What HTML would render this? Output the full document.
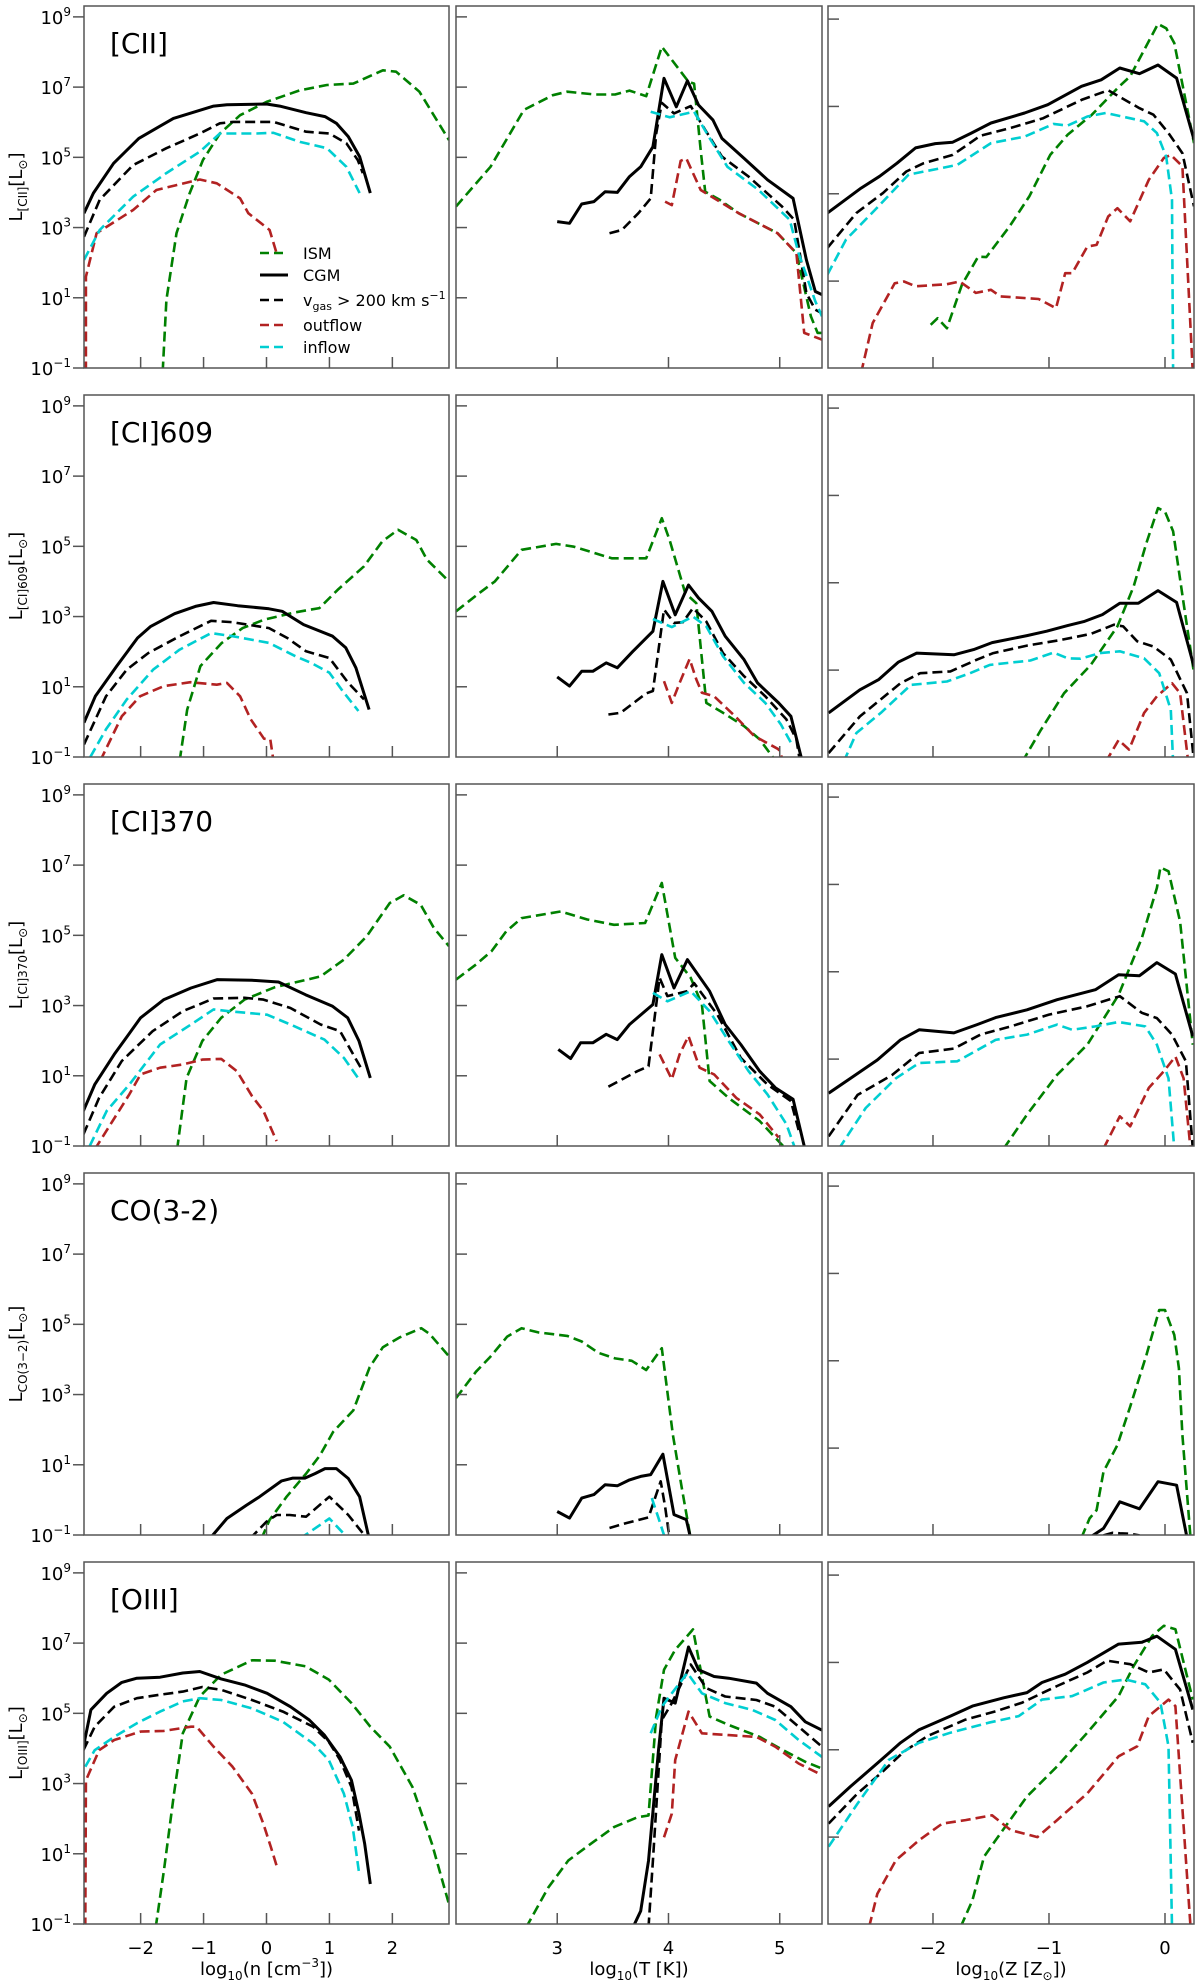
<!DOCTYPE html>
<html><head><meta charset="utf-8"><title>Line luminosity vs gas properties</title>
<style>
html,body{margin:0;padding:0;background:#fff;}
svg{display:block;font-family:"DejaVu Sans","Liberation Sans",sans-serif;}
</style></head>
<body>
<svg id="fig" xmlns="http://www.w3.org/2000/svg" width="1200" height="1984" viewBox="0 0 1200 1984"></svg>
<script>
// ---------- data: y values are log10(L / Lsun) ----------
// Row 1 [CII]
const r1c1_ism_x=[-1.65,-1.59,-1.43,-1.22,-1.01,-0.74,-0.42,0,0.53,0.96,1.38,1.85,2.06,2.43,2.9];
const r1c1_ism_y=[-1.1,0.94,2.84,3.98,4.92,5.68,6.2,6.58,6.91,7.06,7.1,7.48,7.44,6.87,5.49];
const r1c1_cgm_x=[-2.9,-2.75,-2.43,-2.03,-1.48,-0.84,-0.63,0,0.21,0.63,0.93,1.11,1.30,1.48,1.65];
const r1c1_cgm_y=[3.41,3.98,4.83,5.54,6.11,6.46,6.5,6.52,6.46,6.27,6.16,5.97,5.59,5.02,3.98];
const r1c1_vg_x=[-2.9,-2.65,-2.12,-1.59,-1.06,-0.74,-0.53,0.11,0.63,1.0,1.27,1.45,1.53];
const r1c1_vg_y=[2.74,3.79,4.78,5.26,5.68,5.97,6.01,6.01,5.73,5.68,5.4,4.92,4.55];
const r1c1_out_x=[-2.87,-2.87,-2.7,-2.12,-1.75,-1.43,-1.06,-0.79,-0.42,-0.29,0.05,0.16];
const r1c1_out_y=[-1.1,1.6,2.84,3.5,4.07,4.21,4.37,4.26,3.83,3.41,2.93,2.27];
const r1c1_in_x=[-2.9,-2.65,-2.12,-1.59,-1.06,-0.74,-0.16,0.11,0.53,0.96,1.27,1.48];
const r1c1_in_y=[2.08,2.93,3.88,4.55,5.16,5.68,5.68,5.70,5.44,5.26,4.73,3.98];

const r1c2_ism_x=[2.09,2.4,2.70,2.96,3.09,3.34,3.52,3.65,3.80,3.94,4.18,4.23,4.29,4.33,4.46,4.63,4.98,5.15,5.28,5.34,5.38];
const r1c2_ism_y=[3.6,4.73,6.35,6.77,6.87,6.79,6.79,6.9,6.74,8.15,7.15,7.1,5.2,4.02,3.79,3.41,2.84,2.27,0.47,0.0,0.0];
const r1c2_cgm_x=[3.0,3.11,3.22,3.33,3.43,3.54,3.65,3.75,3.86,3.96,4.07,4.17,4.27,4.40,4.48,4.68,4.89,5.12,5.24,5.32,5.38];
const r1c2_cgm_y=[3.17,3.12,3.67,3.74,4.02,4.0,4.45,4.73,5.3,7.25,6.44,7.18,6.49,6.06,5.54,4.97,4.36,3.83,2.08,1.18,1.09];
const r1c2_vg_x=[3.47,3.58,3.73,3.84,3.89,3.94,4.05,4.20,4.33,4.48,4.72,5.02,5.13,5.24,5.32,5.38];
const r1c2_vg_y=[2.84,2.93,3.41,3.83,5.68,6.55,6.25,6.46,5.78,5.02,4.45,3.6,3.22,1.13,0.66,0.56];
const r1c2_out_x=[3.97,4.03,4.11,4.16,4.29,4.46,4.63,4.98,5.15,5.22,5.38];
const r1c2_out_y=[3.74,3.64,4.9,4.97,4.07,3.74,3.41,2.84,2.27,0.0,-0.19];
const r1c2_in_x=[3.84,4.01,4.23,4.38,4.53,4.81,5.09,5.17,5.32,5.38];
const r1c2_in_y=[6.30,6.14,6.30,5.49,4.73,4.07,3.22,2.27,0.9,0.47];

const r1c3_ism_x=[-2.02,-1.96,-1.88,-1.75,-1.61,-1.54,-1.34,-1.17,-0.99,-0.84,-0.63,-0.39,-0.30,-0.06,0.01,0.08,0.25];
const r1c3_ism_y=[2.0,2.15,1.92,2.92,3.56,3.55,4.25,4.94,5.89,6.35,6.81,7.47,7.69,8.89,8.79,8.45,6.16];
const r1c3_cgm_x=[-2.91,-2.62,-2.46,-2.31,-2.15,-1.98,-1.83,-1.67,-1.50,-1.21,-1.01,-0.72,-0.55,-0.39,-0.22,-0.06,0.10,0.25];
const r1c3_cgm_y=[4.56,5.13,5.40,5.70,6.05,6.15,6.18,6.39,6.62,6.85,7.04,7.46,7.61,7.88,7.75,7.95,7.65,6.24];
const r1c3_vg_x=[-2.91,-2.66,-2.43,-2.23,-2.08,-1.83,-1.59,-1.34,-1.05,-0.72,-0.49,-0.22,-0.10,0.03,0.15,0.25];
const r1c3_vg_y=[3.76,4.56,5.02,5.51,5.70,5.89,6.33,6.50,6.73,7.15,7.37,6.96,6.81,6.39,5.93,4.71];
const r1c3_out_x=[-2.62,-2.52,-2.33,-2.25,-2.15,-1.88,-1.77,-1.63,-1.50,-1.42,-1.09,-0.94,-0.86,-0.80,-0.67,-0.59,-0.49,-0.41,-0.30,-0.14,-0.01,0.05,0.15,0.24];
const r1c3_out_y=[0.9,2.04,2.95,2.99,2.88,2.93,2.99,2.73,2.80,2.65,2.59,2.38,3.18,3.18,3.79,3.83,4.48,4.67,4.37,5.32,5.82,5.89,5.63,0.9];
const r1c3_in_x=[-2.91,-2.75,-2.50,-2.21,-1.79,-1.50,-1.21,-0.96,-0.84,-0.67,-0.51,-0.18,-0.07,0.01,0.06,0.07];
const r1c3_in_y=[3.15,3.95,4.63,5.44,5.66,6.16,6.31,6.60,6.56,6.77,6.85,6.66,6.39,5.85,4.86,0.9];

// Row 2 [CI]609
const r2c1_ism_x=[-1.38,-1.26,-1.05,-0.71,-0.38,-0.04,0.46,0.84,1.13,1.55,1.84,2.09,2.38,2.55,2.9];
const r2c1_ism_y=[-1.1,0.35,1.59,2.25,2.67,2.91,3.12,3.24,3.76,4.43,5.14,5.47,5.18,4.62,4.0];
const r2c1_cgm_x=[-2.9,-2.72,-2.38,-2.05,-1.84,-1.46,-1.13,-0.84,-0.46,0.04,0.25,0.59,1.05,1.26,1.42,1.63];
const r2c1_cgm_y=[-0.02,0.73,1.59,2.39,2.72,3.08,3.29,3.40,3.31,3.22,3.15,2.77,2.44,2.11,1.54,0.35];
const r2c1_vg_x=[-2.9,-2.55,-2.22,-1.88,-1.38,-0.88,-0.54,0.04,0.33,0.63,1.0,1.30,1.55];
const r2c1_vg_y=[-0.64,0.73,1.49,1.96,2.44,2.88,2.84,2.67,2.39,2.01,1.82,1.11,0.64];
const r2c1_out_x=[-2.64,-2.30,-2.01,-1.63,-1.21,-0.79,-0.63,-0.42,-0.25,-0.04,0.06,0.11];
const r2c1_out_y=[-1.1,0.16,0.73,1.02,1.13,1.06,1.11,0.73,0.07,-0.48,-0.5,-1.1];
const r2c1_in_x=[-2.80,-2.55,-2.22,-1.80,-1.38,-0.88,-0.54,0.04,0.46,0.71,1.0,1.21,1.46];
const r2c1_in_y=[-1.0,-0.21,0.64,1.49,2.06,2.53,2.44,2.25,1.87,1.68,1.40,0.88,0.31];

const r2c2_ism_x=[2.09,2.30,2.44,2.68,2.99,3.15,3.49,3.80,3.94,4.01,4.15,4.25,4.34,4.49,4.68,4.82,4.96];
const r2c2_ism_y=[3.15,3.67,4.0,4.90,5.07,4.99,4.66,4.66,5.8,5.18,3.67,3.38,0.54,0.26,-0.12,-0.5,-1.1];
const r2c2_cgm_x=[3.0,3.11,3.22,3.32,3.44,3.54,3.68,3.86,3.95,4.06,4.18,4.27,4.39,4.51,4.68,4.80,4.99,5.10,5.20];
const r2c2_cgm_y=[1.28,1.02,1.44,1.44,1.68,1.54,2.01,2.58,4.0,3.05,3.90,3.53,3.15,2.44,1.77,1.11,0.54,0.16,-1.1];
const r2c2_vg_x=[3.46,3.57,3.80,3.86,3.96,4.05,4.13,4.22,4.34,4.49,4.68,4.87,5.06,5.15,5.18];
const r2c2_vg_y=[0.21,0.26,0.81,0.88,3.2,2.82,2.84,3.24,2.86,1.96,1.30,0.73,0.07,-0.5,-1.1];
const r2c2_out_x=[3.96,4.03,4.10,4.19,4.25,4.30,4.41,4.60,4.77,4.99,5.03];
const r2c2_out_y=[1.16,0.54,1.11,1.79,1.21,0.83,0.73,0.16,-0.4,-0.78,-1.1];
const r2c2_in_x=[3.86,4.03,4.22,4.34,4.49,4.68,4.87,5.01,5.10];
const r2c2_in_y=[2.93,2.70,3.0,2.72,1.87,1.11,0.54,-0.07,-0.59];

const r2c3_ism_x=[-1.23,-1.07,-0.87,-0.64,-0.41,-0.27,-0.16,-0.06,0.0,0.07,0.16,0.25];
const r2c3_ism_y=[0.9,1.63,2.47,3.12,4.0,4.92,5.91,6.71,6.63,6.18,4.53,2.93];
const r2c3_cgm_x=[-2.90,-2.63,-2.47,-2.30,-2.14,-1.82,-1.65,-1.49,-1.19,-1.02,-0.84,-0.70,-0.54,-0.39,-0.23,-0.06,0.10,0.25];
const r2c3_cgm_y=[2.02,2.55,2.78,3.18,3.39,3.35,3.47,3.63,3.79,3.89,4.02,4.11,4.27,4.53,4.53,4.82,4.55,3.08];
const r2c3_vg_x=[-2.90,-2.63,-2.28,-2.11,-1.85,-1.62,-1.48,-1.19,-0.90,-0.64,-0.44,-0.36,-0.24,-0.10,0.05,0.19,0.25];
const r2c3_vg_y=[1.10,1.94,2.70,2.93,2.97,3.24,3.39,3.56,3.69,3.83,4.04,4.0,3.66,3.54,3.24,2.47,0.9];
const r2c3_out_x=[-0.51,-0.40,-0.31,-0.18,-0.07,0.06,0.13,0.20];
const r2c3_out_y=[0.9,1.40,1.18,2.02,2.40,2.70,2.47,0.9];
const r2c3_in_x=[-2.77,-2.66,-2.45,-2.19,-1.88,-1.68,-1.51,-1.16,-0.96,-0.84,-0.73,-0.56,-0.39,-0.18,-0.05,0.05,0.07];
const r2c3_in_y=[0.9,1.56,2.02,2.66,2.74,2.93,3.12,3.22,3.40,3.27,3.26,3.39,3.43,3.27,2.93,2.09,0.9];

// Row 3 [CI]370
const r3c1_ism_x=[-1.42,-1.27,-1.02,-0.72,-0.35,0.13,0.86,1.23,1.59,1.96,2.18,2.45,2.66,2.9];
const r3c1_ism_y=[-1.1,0.94,1.99,2.65,3.17,3.52,3.83,4.31,4.97,5.92,6.14,5.87,5.21,4.69];
const r3c1_cgm_x=[-2.91,-2.73,-2.42,-2.0,-1.63,-1.2,-0.78,-0.23,0.19,0.62,1.05,1.29,1.47,1.65];
const r3c1_cgm_y=[0.0,0.75,1.61,2.65,3.17,3.50,3.74,3.72,3.67,3.31,2.98,2.65,1.99,0.94];
const r3c1_vg_x=[-2.91,-2.66,-2.30,-1.81,-1.33,-0.84,-0.35,-0.05,0.38,0.86,1.17,1.41,1.53];
const r3c1_vg_y=[-0.67,0.37,1.42,2.27,2.84,3.20,3.22,3.17,2.93,2.46,2.27,1.51,1.13];
const r3c1_out_x=[-2.73,-2.18,-2.0,-1.69,-1.33,-1.02,-0.72,-0.47,-0.23,-0.05,0.16];
const r3c1_out_y=[-1.1,0.47,1.04,1.23,1.32,1.46,1.48,1.13,0.42,0.0,-0.86];
const r3c1_in_x=[-2.81,-2.54,-2.18,-1.69,-1.20,-0.84,-0.60,0.01,0.38,0.92,1.23,1.47];
const r3c1_in_y=[-1.0,0.0,0.75,1.89,2.46,2.89,2.84,2.74,2.46,2.03,1.51,0.90];

const r3c2_ism_x=[2.09,2.27,2.41,2.54,2.68,3.03,3.27,3.51,3.79,3.94,4.06,4.20,4.30,4.37,4.54,4.82,5.03];
const r3c2_ism_y=[3.74,4.17,4.55,5.11,5.49,5.68,5.45,5.30,5.35,6.49,4.36,3.79,3.03,0.85,0.37,-0.29,-1.0];
const r3c2_cgm_x=[3.01,3.12,3.21,3.32,3.44,3.54,3.65,3.86,3.94,4.05,4.17,4.37,4.51,4.65,4.82,4.96,5.12,5.22];
const r3c2_cgm_y=[1.75,1.49,1.94,1.94,2.18,2.03,2.46,3.03,4.45,3.50,4.31,3.41,2.46,1.89,1.13,0.66,0.33,-1.0];
const r3c2_vg_x=[3.46,3.72,3.82,3.92,3.99,4.17,4.23,4.44,4.65,4.89,5.10,5.18];
const r3c2_vg_y=[0.69,1.13,1.27,3.79,3.27,3.41,3.64,2.74,1.51,0.75,0.28,-0.67];
const r3c2_out_x=[3.92,4.03,4.10,4.18,4.28,4.41,4.61,4.82,4.99];
const r3c2_out_y=[1.61,0.90,1.61,2.13,1.23,1.04,0.37,-0.10,-0.76];
const r3c2_in_x=[3.86,3.99,4.20,4.37,4.54,4.72,4.89,5.06,5.13];
const r3c2_in_y=[3.36,3.12,3.41,2.84,1.99,1.13,0.47,-0.38,-1.0];

const r3c3_ism_x=[-1.39,-1.19,-0.93,-0.67,-0.40,-0.20,-0.07,-0.04,0.03,0.13,0.24];
const r3c3_ism_y=[0.95,1.73,2.64,3.33,4.47,5.77,6.92,7.39,7.30,6.15,3.33];
const r3c3_cgm_x=[-2.90,-2.71,-2.48,-2.28,-2.12,-1.82,-1.62,-1.46,-1.19,-0.93,-0.60,-0.40,-0.22,-0.07,0.09,0.24];
const r3c3_cgm_y=[2.22,2.56,2.98,3.44,3.67,3.60,3.79,3.95,4.13,4.36,4.59,4.93,4.91,5.21,4.95,3.52];
const r3c3_vg_x=[-2.90,-2.65,-2.35,-2.12,-1.82,-1.59,-1.33,-1.0,-0.67,-0.39,-0.20,-0.07,0.06,0.18,0.24];
const r3c3_vg_y=[1.23,2.18,2.64,3.14,3.24,3.56,3.75,4.02,4.21,4.44,4.06,3.94,3.56,2.95,0.95];
const r3c3_out_x=[-0.53,-0.39,-0.30,-0.14,-0.01,0.09,0.16,0.22];
const r3c3_out_y=[0.95,1.69,1.46,2.34,2.72,3.06,2.56,0.95];
const r3c3_in_x=[-2.81,-2.58,-2.32,-2.12,-1.79,-1.46,-1.19,-0.93,-0.80,-0.60,-0.40,-0.17,-0.07,0.03,0.08];
const r3c3_in_y=[0.95,1.88,2.56,2.91,2.95,3.44,3.56,3.79,3.67,3.75,3.85,3.75,3.33,2.56,0.95];

// Row 4 CO(3-2)
const r4c1_ism_x=[-0.08,0.05,0.32,0.63,0.85,1.06,1.38,1.64,1.85,2.12,2.46,2.59,2.9];
const r4c1_ism_y=[-1.1,-0.57,0.09,0.75,1.27,1.94,2.55,3.78,4.35,4.63,4.89,4.73,4.09];
const r4c1_cgm_x=[-0.90,-0.63,-0.32,-0.11,0.24,0.42,0.61,0.77,0.93,1.11,1.30,1.48,1.63];
const r4c1_cgm_y=[-1.1,-0.53,-0.15,0.09,0.54,0.62,0.62,0.75,0.89,0.89,0.61,0.09,-1.1];
const r4c1_vg_x=[-0.26,0,0.16,0.37,0.63,1.0,1.30,1.53];
const r4c1_vg_y=[-1.1,-0.62,-0.43,-0.43,-0.48,0.09,-0.43,-0.95];
const r4c1_out_x=[];
const r4c1_out_y=[];
const r4c1_in_x=[0.53,0.66,1.0,1.30];
const r4c1_in_y=[-1.1,-0.95,-0.53,-1.1];

const r4c2_ism_x=[2.09,2.27,2.40,2.55,2.68,2.83,3.09,3.22,3.37,3.52,3.67,3.80,3.94,4.04,4.12,4.20];
const r4c2_ism_y=[2.9,3.65,4.08,4.65,4.89,4.77,4.67,4.51,4.19,4.03,3.96,3.70,4.32,1.85,0.34,-1.1];
const r4c2_cgm_x=[3.0,3.11,3.22,3.33,3.43,3.54,3.65,3.75,3.84,3.95,4.05,4.16,4.20];
const r4c2_cgm_y=[-0.33,-0.52,0.05,0.15,0.43,0.40,0.57,0.67,0.72,1.30,-0.42,-0.56,-1.1];
const r4c2_vg_x=[3.47,3.62,3.82,3.93,3.97,4.01];
const r4c2_vg_y=[-0.80,-0.66,-0.50,0.53,-0.19,-1.1];
const r4c2_out_x=[];
const r4c2_out_y=[];
const r4c2_in_x=[3.85,3.91,3.97];
const r4c2_in_y=[0.05,-0.52,-1.1];

const r4c3_ism_x=[-0.72,-0.65,-0.59,-0.53,-0.41,-0.30,-0.16,-0.05,0.0,0.08,0.12,0.15,0.22];
const r4c3_ism_y=[0.95,1.39,1.58,2.46,3.07,3.95,5.13,6.16,6.16,5.59,4.83,3.30,0.95];
const r4c3_cgm_x=[-0.65,-0.53,-0.39,-0.22,-0.06,0.10,0.19];
const r4c3_cgm_y=[0.95,1.16,1.77,1.61,2.23,2.15,0.95];
const r4c3_vg_x=[-0.53,-0.45,-0.39,-0.30,-0.22];
const r4c3_vg_y=[1.0,1.06,1.05,1.04,1.0];
const r4c3_out_x=[];
const r4c3_out_y=[];
const r4c3_in_x=[];
const r4c3_in_y=[];

// Row 5 [OIII]
const r5c1_ism_x=[-1.76,-1.63,-1.47,-1.33,-1.06,-0.72,-0.23,0.13,0.62,0.99,1.35,1.65,1.96,2.32,2.63,2.90];
const r5c1_ism_y=[-1.1,0.52,2.71,4.43,5.48,6.10,6.51,6.50,6.34,5.96,5.29,4.62,4.05,2.90,1.28,-0.44];
const r5c1_cgm_x=[-2.91,-2.79,-2.54,-2.30,-2.06,-1.69,-1.33,-1.06,-0.72,-0.35,0.01,0.38,0.68,0.92,1.17,1.35,1.47,1.56,1.65];
const r5c1_cgm_y=[4.05,5.10,5.57,5.88,6.0,6.03,6.15,6.19,5.98,5.81,5.57,5.19,4.81,4.38,3.76,3.09,2.14,1.28,0.14];
const r5c1_vg_x=[-2.91,-2.73,-2.42,-2.06,-1.69,-1.33,-1.02,-0.72,-0.23,0.26,0.74,0.99,1.17,1.35,1.47];
const r5c1_vg_y=[3.95,4.62,5.19,5.43,5.53,5.62,5.75,5.67,5.38,5.05,4.62,4.19,3.67,2.90,1.66];
const r5c1_out_x=[-2.88,-2.87,-2.66,-2.42,-2.0,-1.63,-1.20,-1.11,-0.84,-0.54,-0.23,-0.05,0.07,0.16];
const r5c1_out_y=[-1.1,3.09,3.95,4.24,4.48,4.50,4.62,4.62,4.05,3.48,2.71,1.85,1.19,0.66];
const r5c1_in_x=[-2.88,-2.73,-2.42,-2.06,-1.69,-1.33,-1.06,-0.72,-0.23,0.26,0.74,0.99,1.23,1.37,1.47];
const r5c1_in_y=[3.48,3.95,4.33,4.72,5.05,5.34,5.43,5.38,5.14,4.76,4.14,3.67,2.71,1.76,0.47];

const r5c2_ism_x=[2.72,2.92,3.10,3.30,3.51,3.72,3.82,3.89,3.96,4.06,4.22,4.30,4.37,4.54,4.82,5.03,5.23,5.38];
const r5c2_ism_y=[-1.1,0.04,0.81,1.28,1.76,2.04,2.09,4.91,6.24,6.81,7.39,6.05,4.91,4.67,4.33,3.95,3.62,3.43];
const r5c2_cgm_x=[3.68,3.75,3.82,3.91,3.96,4.06,4.18,4.27,4.41,4.54,4.79,4.89,5.10,5.23,5.38];
const r5c2_cgm_y=[-1.1,-0.63,0.80,3.95,5.43,5.29,6.89,6.24,6.05,6.0,5.86,5.57,5.19,4.76,4.52];
const r5c2_vg_x=[3.82,3.86,3.94,4.03,4.20,4.34,4.51,4.79,4.96,5.17,5.38];
const r5c2_vg_y=[-1.1,0.80,4.81,5.29,6.39,5.72,5.48,5.38,5.19,4.62,4.05];
const r5c2_out_x=[3.96,4.03,4.06,4.18,4.30,4.54,4.79,4.96,5.17,5.38];
const r5c2_out_y=[1.47,2.14,3.67,5.05,4.43,4.38,4.33,4.05,3.57,3.24];
const r5c2_in_x=[3.84,3.94,4.03,4.17,4.30,4.51,4.75,4.96,5.17,5.38];
const r5c2_in_y=[4.43,5.19,5.57,6.15,5.57,5.29,5.10,4.81,4.24,3.76];

const r5c3_ism_x=[-1.76,-1.66,-1.56,-1.46,-1.19,-0.93,-0.67,-0.40,-0.27,-0.11,-0.01,0.09,0.24];
const r5c3_ism_y=[0.95,1.55,2.55,2.93,3.93,4.62,5.39,6.23,6.92,7.61,7.84,7.76,6.15];
const r5c3_cgm_x=[-2.90,-2.71,-2.48,-2.28,-2.12,-1.85,-1.66,-1.39,-1.19,-1.06,-0.86,-0.67,-0.40,-0.20,-0.07,0.09,0.24];
const r5c3_cgm_y=[3.70,4.16,4.69,5.16,5.46,5.77,6.0,6.19,6.31,6.54,6.73,7.0,7.42,7.46,7.60,7.30,5.92];
const r5c3_vg_x=[-2.90,-2.65,-2.45,-2.25,-2.05,-1.72,-1.46,-1.23,-0.93,-0.67,-0.50,-0.30,-0.14,-0.01,0.13,0.24];
const r5c3_vg_y=[3.31,4.0,4.46,4.96,5.31,5.69,5.88,6.08,6.46,6.77,7.04,6.96,6.77,6.84,6.38,5.16];
const r5c3_out_x=[-2.55,-2.48,-2.32,-2.12,-1.92,-1.72,-1.49,-1.33,-1.10,-0.93,-0.67,-0.40,-0.24,-0.14,0.03,0.09,0.22];
const r5c3_out_y=[0.95,1.70,2.47,2.93,3.31,3.39,3.50,3.16,3.0,3.39,4.0,4.85,5.08,5.77,6.15,6.0,0.95];
const r5c3_in_x=[-2.90,-2.65,-2.38,-2.12,-1.85,-1.52,-1.26,-1.06,-0.80,-0.53,-0.34,-0.17,-0.04,0.03,0.06];
const r5c3_in_y=[2.78,3.77,4.77,5.16,5.39,5.62,5.77,6.15,6.23,6.54,6.61,6.50,6.08,5.08,0.95];

// ---------- axis configuration ----------
const rowTitles=['[CII]','[CI]609','[CI]370','CO(3-2)','[OIII]'];
const rowYSub=['[CII]','[CI]609','[CI]370','CO(3\u22122)','[OIII]'];
const col1Ticks=[9,7,5,3,1,-1];
const col2Ticks=[9,7,5,3,1];
const col3Ticks=[9,7,5,3];
const xTicksN=[-2,-1,0,1,2];
const xTicksT=[3,4,5];
const xTicksZ=[-2,-1,0];

const COLS=[{x0:84,w:365,dom:[-2.9,2.9]},{x0:456,w:366,dom:[2.09,5.38]},{x0:828,w:366,dom:[-2.905,0.25]}];
const YDOM=[[-1,9.31],[-1,9.31],[1.01,9.3]];
const PH=362, ROWSTEP=389, ROW0=6;

const data=[
 [[r1c1_ism_x,r1c1_ism_y,r1c1_cgm_x,r1c1_cgm_y,r1c1_vg_x,r1c1_vg_y,r1c1_out_x,r1c1_out_y,r1c1_in_x,r1c1_in_y],
  [r1c2_ism_x,r1c2_ism_y,r1c2_cgm_x,r1c2_cgm_y,r1c2_vg_x,r1c2_vg_y,r1c2_out_x,r1c2_out_y,r1c2_in_x,r1c2_in_y],
  [r1c3_ism_x,r1c3_ism_y,r1c3_cgm_x,r1c3_cgm_y,r1c3_vg_x,r1c3_vg_y,r1c3_out_x,r1c3_out_y,r1c3_in_x,r1c3_in_y]],
 [[r2c1_ism_x,r2c1_ism_y,r2c1_cgm_x,r2c1_cgm_y,r2c1_vg_x,r2c1_vg_y,r2c1_out_x,r2c1_out_y,r2c1_in_x,r2c1_in_y],
  [r2c2_ism_x,r2c2_ism_y,r2c2_cgm_x,r2c2_cgm_y,r2c2_vg_x,r2c2_vg_y,r2c2_out_x,r2c2_out_y,r2c2_in_x,r2c2_in_y],
  [r2c3_ism_x,r2c3_ism_y,r2c3_cgm_x,r2c3_cgm_y,r2c3_vg_x,r2c3_vg_y,r2c3_out_x,r2c3_out_y,r2c3_in_x,r2c3_in_y]],
 [[r3c1_ism_x,r3c1_ism_y,r3c1_cgm_x,r3c1_cgm_y,r3c1_vg_x,r3c1_vg_y,r3c1_out_x,r3c1_out_y,r3c1_in_x,r3c1_in_y],
  [r3c2_ism_x,r3c2_ism_y,r3c2_cgm_x,r3c2_cgm_y,r3c2_vg_x,r3c2_vg_y,r3c2_out_x,r3c2_out_y,r3c2_in_x,r3c2_in_y],
  [r3c3_ism_x,r3c3_ism_y,r3c3_cgm_x,r3c3_cgm_y,r3c3_vg_x,r3c3_vg_y,r3c3_out_x,r3c3_out_y,r3c3_in_x,r3c3_in_y]],
 [[r4c1_ism_x,r4c1_ism_y,r4c1_cgm_x,r4c1_cgm_y,r4c1_vg_x,r4c1_vg_y,r4c1_out_x,r4c1_out_y,r4c1_in_x,r4c1_in_y],
  [r4c2_ism_x,r4c2_ism_y,r4c2_cgm_x,r4c2_cgm_y,r4c2_vg_x,r4c2_vg_y,r4c2_out_x,r4c2_out_y,r4c2_in_x,r4c2_in_y],
  [r4c3_ism_x,r4c3_ism_y,r4c3_cgm_x,r4c3_cgm_y,r4c3_vg_x,r4c3_vg_y,r4c3_out_x,r4c3_out_y,r4c3_in_x,r4c3_in_y]],
 [[r5c1_ism_x,r5c1_ism_y,r5c1_cgm_x,r5c1_cgm_y,r5c1_vg_x,r5c1_vg_y,r5c1_out_x,r5c1_out_y,r5c1_in_x,r5c1_in_y],
  [r5c2_ism_x,r5c2_ism_y,r5c2_cgm_x,r5c2_cgm_y,r5c2_vg_x,r5c2_vg_y,r5c2_out_x,r5c2_out_y,r5c2_in_x,r5c2_in_y],
  [r5c3_ism_x,r5c3_ism_y,r5c3_cgm_x,r5c3_cgm_y,r5c3_vg_x,r5c3_vg_y,r5c3_out_x,r5c3_out_y,r5c3_in_x,r5c3_in_y]]
];
const seriesNames=['ism','cgm','vgas','outflow','inflow'];
const seriesColors=['#008000','#000000','#000000','#b22222','#00ced1'];
const seriesDash=['10 5','','10 5','10 5','10 5'];
const seriesWidth=[2.6,3,2.6,2.6,2.6];

// ---------- drawing ----------
const NS='http://www.w3.org/2000/svg';
const svg=document.getElementById('fig');
function mk(tag,attrs,parent){const e=document.createElementNS(NS,tag);for(const k in attrs)e.setAttribute(k,attrs[k]);(parent||svg).appendChild(e);return e;}
function xScale(c,v){const C=COLS[c];return C.x0+(v-C.dom[0])/(C.dom[1]-C.dom[0])*C.w;}
function yScale(r,c,v){const d=YDOM[c];const y0=ROW0+r*ROWSTEP;return y0+PH-(v-d[0])/(d[1]-d[0])*PH;}

const defs=mk('defs',{});
const colTicks=[col1Ticks,col2Ticks,col3Ticks];
const colXTicks=[xTicksN,xTicksT,xTicksZ];

for(let r=0;r<5;r++){
 for(let c=0;c<3;c++){
  const C=COLS[c];const y0=ROW0+r*ROWSTEP;
  const g=mk('g',{});
  
  
  const cp=mk('clipPath',{id:'cp'+r+c},defs);
  mk('rect',{x:C.x0,y:y0,width:C.w,height:PH},cp);
  // series
  const sg=mk('g',{'clip-path':'url(#cp'+r+c+')'},g);
  const arrs=data[r][c];
  for(let s=0;s<5;s++){
   const xs=arrs[2*s],ys=arrs[2*s+1];
   if(!xs.length)continue;
   const pts=xs.map((xv,i)=>xScale(c,xv).toFixed(1)+','+yScale(r,c,ys[i]).toFixed(1)).join(' ');
   const pl=mk('polyline',{points:pts,fill:'none',stroke:seriesColors[s],'stroke-width':seriesWidth[s],'stroke-linejoin':'round'},sg);
   if(seriesDash[s])pl.setAttribute('stroke-dasharray',seriesDash[s]);
   
   
  }
  // frame
  const fr=mk('rect',{x:C.x0,y:y0,width:C.w,height:PH,fill:'none',stroke:'#555','stroke-width':1.5},g);
  
  
  // y ticks
  for(const t of colTicks[c]){
   const yy=yScale(r,c,t);
   if(c===0){
    mk('line',{x1:C.x0-11,x2:C.x0,y1:yy,y2:yy,stroke:'#555','stroke-width':1.5},g);
    const tx=mk('text',{x:C.x0-13,y:yy+7,'text-anchor':'end','font-size':18,fill:'#000'},g);
    
    
    const a=mk('tspan',{},tx);a.textContent='10';
    const b=mk('tspan',{'font-size':12,dy:-8},tx);b.textContent=(t<0?'\u2212'+(-t):String(t));
   } else {
    mk('line',{x1:C.x0,x2:C.x0+11,y1:yy,y2:yy,stroke:'#555','stroke-width':1.5},g);
   }
  }
  // x ticks
  for(const t of colXTicks[c]){
   const xx=xScale(c,t);
   mk('line',{x1:xx,x2:xx,y1:y0+PH-11,y2:y0+PH,stroke:'#555','stroke-width':1.5},g);
   if(r===4){
    const tx=mk('text',{x:xx,y:y0+PH+30,'text-anchor':'middle','font-size':18,fill:'#000'},g);
    
    
    tx.textContent=(t<0?'\u2212'+(-t):String(t));
   }
  }
  if(c===0){
   const tt=mk('text',{x:C.x0+26,y:y0+47,'font-size':28,fill:'#000'},g);
   
   
   tt.textContent=rowTitles[r];
   const cy=y0+PH/2;
   const yl=mk('text',{x:0,y:0,transform:'translate(22,'+cy+') rotate(-90)','text-anchor':'middle','font-size':18,fill:'#000'},g);
   
   
   const p1=mk('tspan',{},yl);p1.textContent='L';
   const p2=mk('tspan',{'font-size':12,dy:5},yl);p2.textContent=rowYSub[r];
   const p3=mk('tspan',{dy:-5},yl);p3.textContent='[L';
   const p4=mk('tspan',{'font-size':12,dy:5},yl);p4.textContent='\u2299';
   const p5=mk('tspan',{dy:-5},yl);p5.textContent=']';
  }
 }
}

// x axis titles
const xTitles=[['log','10','(n [cm','\u22123','])'],['log','10','(T [K])'],['log','10','(Z [Z','\u2299','])']];
for(let c=0;c<3;c++){
 const C=COLS[c];
 const t=mk('text',{x:C.x0+C.w/2,y:1975,'text-anchor':'middle','font-size':18,fill:'#000'});
 
 
 const parts=xTitles[c];
 const a=mk('tspan',{},t);a.textContent=parts[0];
 const b=mk('tspan',{'font-size':12,dy:5},t);b.textContent=parts[1];
 const d=mk('tspan',{dy:-5},t);d.textContent=parts[2];
 if(parts.length>3){
  const sub=(c===0);
  const e=mk('tspan',{'font-size':12,dy:sub?-8:5},t);e.textContent=parts[3];
  const f=mk('tspan',{dy:sub?8:-5},t);f.textContent=parts[4];
 }
}

// legend
const lg=mk('g',{});


const legLabels=['ISM','CGM','v','outflow','inflow'];
const legY=[253,275,300,325,347];
for(let i=0;i<5;i++){
 const ln=mk('line',{x1:260,x2:288,y1:legY[i],y2:legY[i],stroke:seriesColors[i],'stroke-width':seriesWidth[i]},lg);
 if(seriesDash[i])ln.setAttribute('stroke-dasharray','9 5');
 
 
 const tx=mk('text',{x:303,y:legY[i]+6,'font-size':16,fill:'#000'},lg);
 
 
 if(i===2){
  const a=mk('tspan',{},tx);a.textContent='v';
  const b=mk('tspan',{'font-size':11,dy:4},tx);b.textContent='gas';
  const d=mk('tspan',{dy:-4},tx);d.textContent=' > 200 km s';
  const e=mk('tspan',{'font-size':11,dy:-7},tx);e.textContent='\u22121';
 } else tx.textContent=legLabels[i];
}
</script>
</body></html>
